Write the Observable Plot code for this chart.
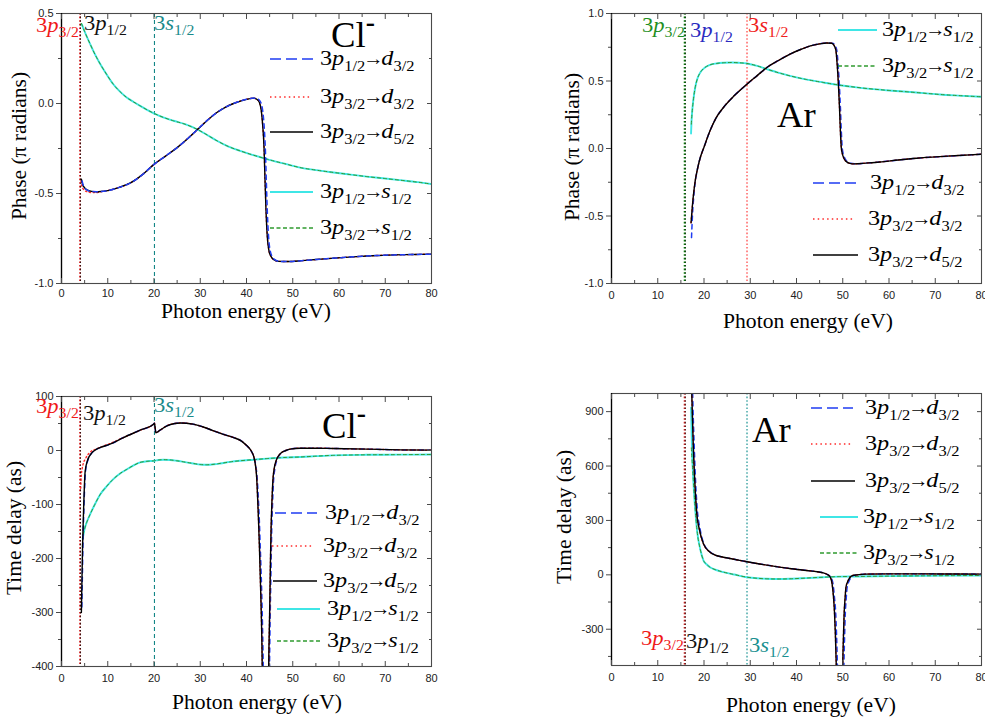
<!DOCTYPE html>
<html><head><meta charset="utf-8">
<script src="https://cdn.jsdelivr.net/npm/d3@7"></script>
<script src="https://cdn.jsdelivr.net/npm/@observablehq/plot@0.6"></script>
<style>
body{margin:0;background:#fff;}
#chart{position:relative;width:985px;height:718px;overflow:hidden;background:#fff;}
#chart svg{position:absolute;overflow:visible;max-width:none;}
</style></head><body><div id="chart"></div>
<script>
// ================= DATA =================
const seriesLabels = ["3p_{1/2}→d_{3/2}", "3p_{3/2}→d_{3/2}", "3p_{3/2}→d_{5/2}", "3p_{1/2}→s_{1/2}", "3p_{3/2}→s_{1/2}"];
const thresholdLabels = ["3p_{3/2}", "3p_{1/2}", "3s_{1/2}"];
const xLabel = "Photon energy (eV)";
const phaseLabel = "Phase (π radians)";
const delayLabel = "Time delay (as)";
const xTicks = [0, 10, 20, 30, 40, 50, 60, 70, 80];
const xMinor = [5, 15, 25, 35, 45, 55, 65, 75];
const clPhaseTicks = [-1.0, -0.5, 0.0, 0.5];
const clPhaseMinor = [-0.75, -0.25, 0.25];
const arPhaseTicks = [-1.0, -0.5, 0.0, 0.5, 1.0];
const arPhaseMinor = [-0.75, -0.25, 0.25, 0.75];
const clDelayTicks = [-400, -300, -200, -100, 0, 100];
const clDelayMinor = [-350, -250, -150, -50, 50];
const arDelayTicks = [-300, 0, 300, 600, 900];
const arDelayMinor = [-450, -150, 150, 450, 750];

// thresholds (eV): 3p3/2, 3p1/2, 3s1/2
const clThresholdE = [4.0, 4.1, 20.1];
const arThresholdE = [15.8, 15.95, 29.3];

// ---- Cl- phase (π rad) ----
const clPhaseP12D32 = [[4.45,-0.43],[4.7,-0.455],[5.2,-0.475],[6.2,-0.487],[7.5,-0.49],[8.5,-0.489],[10,-0.484],[12.5,-0.466],[15,-0.44],[17.5,-0.395],[20,-0.338],[22.5,-0.292],[25,-0.245],[27.5,-0.19],[29.5,-0.142],[31.5,-0.094],[33.6,-0.05],[35.5,-0.02],[37.2,0.0],[39,0.016],[40.5,0.026],[41.5,0.03],[42.5,0.025],[43.1,0.005],[43.5,-0.04],[43.8,-0.12],[44.1,-0.27],[44.3,-0.44],[44.5,-0.6],[44.8,-0.75],[45.1,-0.815],[45.5,-0.848],[46.1,-0.867],[47.2,-0.877],[49,-0.878],[52,-0.873],[55,-0.867],[59,-0.859],[63,-0.852],[67,-0.846],[72,-0.841],[76,-0.839],[80,-0.837]];
const clPhaseP32D32 = [[4.2,-0.43],[4.4,-0.46],[4.8,-0.478],[5.5,-0.49],[6.5,-0.495],[7.5,-0.495],[8.5,-0.49],[10,-0.484],[12.5,-0.466],[15,-0.44],[17.5,-0.395],[20,-0.338],[22.5,-0.292],[25,-0.245],[27.5,-0.19],[29.5,-0.142],[31.5,-0.094],[33.6,-0.05],[35.5,-0.02],[37.2,0.0],[39,0.016],[40.5,0.026],[41.5,0.03],[42.3,0.022],[42.8,0.005],[43.2,-0.04],[43.5,-0.12],[43.8,-0.25],[44.0,-0.42],[44.2,-0.58],[44.5,-0.74],[44.8,-0.81],[45.2,-0.845],[45.8,-0.866],[47,-0.877],[49,-0.878],[52,-0.873],[55,-0.867],[59,-0.859],[63,-0.852],[67,-0.846],[72,-0.841],[76,-0.839],[80,-0.837]];
const clPhaseP32D52 = [[4.3,-0.42],[4.5,-0.445],[4.8,-0.462],[5.5,-0.48],[6.5,-0.488],[7.5,-0.49],[8.5,-0.489],[10,-0.484],[12.5,-0.466],[15,-0.44],[17.5,-0.395],[20,-0.338],[22.5,-0.292],[25,-0.245],[27.5,-0.19],[29.5,-0.142],[31.5,-0.094],[33.6,-0.05],[35.5,-0.02],[37.2,0.0],[39,0.016],[40.5,0.026],[41.5,0.03],[42.3,0.022],[42.8,0.005],[43.2,-0.04],[43.5,-0.12],[43.8,-0.25],[44.0,-0.42],[44.2,-0.58],[44.5,-0.74],[44.8,-0.81],[45.2,-0.845],[45.8,-0.866],[47,-0.877],[49,-0.878],[52,-0.873],[55,-0.867],[59,-0.859],[63,-0.852],[67,-0.846],[72,-0.841],[76,-0.839],[80,-0.837]];
const clPhaseP12S12 = [[4.4,0.44],[5,0.4],[6.2,0.33],[7.3,0.27],[8.4,0.218],[9.8,0.16],[11.2,0.107],[12.6,0.067],[14.1,0.033],[15.5,0.01],[17,-0.013],[18.5,-0.035],[20.1,-0.056],[22,-0.077],[24.2,-0.096],[26.7,-0.115],[29.3,-0.143],[31.5,-0.175],[33.6,-0.207],[36,-0.238],[38.6,-0.263],[41.5,-0.287],[44.4,-0.309],[48,-0.333],[51.6,-0.356],[55,-0.37],[58.8,-0.383],[62.5,-0.395],[66,-0.406],[70,-0.417],[73.2,-0.426],[77,-0.437],[80,-0.448]];
const clPhaseP32S12 = [[4.3,0.445],[5,0.4],[6.2,0.33],[7.3,0.27],[8.4,0.218],[9.8,0.16],[11.2,0.107],[12.6,0.067],[14.1,0.033],[15.5,0.01],[17,-0.013],[18.5,-0.035],[20.1,-0.056],[22,-0.077],[24.2,-0.096],[26.7,-0.115],[29.3,-0.143],[31.5,-0.175],[33.6,-0.207],[36,-0.238],[38.6,-0.263],[41.5,-0.287],[44.4,-0.309],[48,-0.333],[51.6,-0.356],[55,-0.37],[58.8,-0.383],[62.5,-0.395],[66,-0.406],[70,-0.417],[73.2,-0.426],[77,-0.437],[80,-0.448]];

// ---- Ar phase (π rad) ----
const arPhaseP12D32 = [[17.3,-0.66],[17.5,-0.5],[17.8,-0.35],[18.1,-0.25],[18.6,-0.15],[19.2,-0.067],[20,0.01],[21.3,0.131],[22.5,0.22],[24.2,0.304],[26.5,0.39],[29.3,0.477],[31.5,0.54],[33.6,0.6],[36,0.65],[38.6,0.699],[41,0.735],[43,0.76],[45,0.775],[46.5,0.782],[47.8,0.78],[48.3,0.765],[48.7,0.73],[49.0,0.62],[49.3,0.45],[49.5,0.3],[49.7,0.12],[49.9,0.0],[50.3,-0.06],[50.9,-0.095],[51.7,-0.11],[52.7,-0.114],[55,-0.108],[58,-0.1],[62,-0.085],[66,-0.072],[71,-0.06],[75,-0.052],[80,-0.042]];
const arPhaseP32D32 = [[17.2,-0.55],[17.5,-0.42],[17.8,-0.32],[18.1,-0.24],[18.6,-0.15],[19.2,-0.067],[20,0.01],[21.3,0.131],[22.5,0.22],[24.2,0.304],[26.5,0.39],[29.3,0.477],[31.5,0.54],[33.6,0.6],[36,0.65],[38.6,0.699],[41,0.735],[43,0.76],[45,0.775],[46.5,0.782],[47.6,0.78],[48.1,0.765],[48.5,0.73],[48.8,0.62],[49.1,0.45],[49.3,0.3],[49.5,0.12],[49.7,0.0],[50.1,-0.06],[50.7,-0.095],[51.5,-0.11],[52.5,-0.114],[55,-0.108],[58,-0.1],[62,-0.085],[66,-0.072],[71,-0.06],[75,-0.052],[80,-0.042]];
const arPhaseP32D52 = [[17.2,-0.55],[17.5,-0.42],[17.8,-0.32],[18.1,-0.24],[18.6,-0.15],[19.2,-0.067],[20,0.01],[21.3,0.131],[22.5,0.22],[24.2,0.304],[26.5,0.39],[29.3,0.477],[31.5,0.54],[33.6,0.6],[36,0.65],[38.6,0.699],[41,0.735],[43,0.76],[45,0.775],[46.5,0.782],[47.6,0.78],[48.1,0.765],[48.5,0.73],[48.8,0.62],[49.1,0.45],[49.3,0.3],[49.5,0.12],[49.7,0.0],[50.1,-0.06],[50.7,-0.095],[51.5,-0.11],[52.5,-0.114],[55,-0.108],[58,-0.1],[62,-0.085],[66,-0.072],[71,-0.06],[75,-0.052],[80,-0.042]];
const arPhaseP12S12 = [[17.2,0.111],[17.3,0.2],[17.4,0.254],[17.7,0.36],[18.1,0.452],[18.6,0.52],[19.2,0.563],[20.2,0.6],[21.3,0.62],[22.7,0.63],[24.2,0.635],[26,0.637],[27.5,0.635],[29.3,0.63],[31.5,0.612],[33.6,0.588],[36,0.562],[38.6,0.538],[42,0.512],[45.8,0.489],[49.4,0.469],[53,0.453],[56.6,0.44],[60,0.43],[63.9,0.42],[67.5,0.41],[71.1,0.4],[75,0.392],[80,0.383]];
const arPhaseP32S12 = [[17.25,0.18],[17.4,0.254],[17.7,0.36],[18.1,0.452],[18.6,0.52],[19.2,0.563],[20.2,0.6],[21.3,0.62],[22.7,0.63],[24.2,0.635],[26,0.637],[27.5,0.635],[29.3,0.63],[31.5,0.612],[33.6,0.588],[36,0.562],[38.6,0.538],[42,0.512],[45.8,0.489],[49.4,0.469],[53,0.453],[56.6,0.44],[60,0.43],[63.9,0.42],[67.5,0.41],[71.1,0.4],[75,0.392],[80,0.383]];

// ---- Cl- time delay (as) ----
const clDelayP12D32 = [[4.4,-290],[4.5,-240],[4.65,-170],[4.8,-120],[4.95,-80],[5.2,-38],[5.7,-18],[6.6,-4],[7.5,2],[8.4,5.6],[10.5,11.7],[13.4,24],[17,37.6],[19.9,48.8],[20.1,50.6],[20.4,33],[21.3,37.6],[22.8,45.7],[24.5,50],[25.7,51],[27,50.5],[28.5,48.8],[30.5,44],[32.9,36.4],[35,30],[37.2,24],[39,17],[40.1,8.6],[40.8,2],[41.2,-3.7],[41.6,-12],[41.95,-25],[42.3,-50],[42.55,-87],[42.8,-135],[43.0,-185],[43.25,-250],[43.45,-320],[43.65,-420],[43.8,-560],[44.8,-560],[44.95,-420],[45.1,-320],[45.3,-220],[45.45,-149],[45.65,-95],[45.85,-56],[46.15,-33],[46.5,-19],[47.1,-9],[47.7,-3.7],[48.5,0],[49.4,2.5],[51.6,4.3],[55,4.3],[58.8,3.7],[66,2.5],[73.2,1.2],[80,0.6]];
const clDelayP32D32 = [[4.15,-70],[4.3,-45],[4.6,-28],[5.2,-15],[6.2,-3],[7.6,3],[9,8],[10.5,13],[13.4,24],[17,37.6],[19.9,48.8],[20.1,50.6],[20.4,33],[21.3,37.6],[22.8,45.7],[24.5,50],[25.7,51],[27,50.5],[28.5,48.8],[30.5,44],[32.9,36.4],[35,30],[37.2,24],[39,17],[40.1,8.6],[40.8,2],[41.2,-3.7],[41.6,-12],[41.9,-25],[42.2,-50],[42.4,-87],[42.6,-130],[42.8,-180],[43.0,-240],[43.2,-303],[43.4,-400],[43.55,-560],[44.65,-560],[44.8,-400],[45.0,-303],[45.15,-220],[45.3,-149],[45.5,-95],[45.7,-56],[46.0,-33],[46.4,-19],[47,-9],[47.6,-3.7],[48.5,0],[49.4,2.5],[51.6,4.3],[55,4.3],[58.8,3.7],[66,2.5],[73.2,1.2],[80,0.6]];
const clDelayP32D52 = [[4.3,-300],[4.4,-250],[4.55,-180],[4.7,-130],[4.85,-90],[5.1,-40],[5.6,-19],[6.6,-4],[7.5,2],[8.4,5.6],[10.5,11.7],[13.4,24],[17,37.6],[19.9,48.8],[20.1,50.6],[20.4,33],[21.3,37.6],[22.8,45.7],[24.5,50],[25.7,51],[27,50.5],[28.5,48.8],[30.5,44],[32.9,36.4],[35,30],[37.2,24],[39,17],[40.1,8.6],[40.8,2],[41.2,-3.7],[41.6,-12],[41.9,-25],[42.2,-50],[42.4,-87],[42.6,-130],[42.8,-180],[43.0,-240],[43.2,-303],[43.4,-400],[43.55,-560],[44.65,-560],[44.8,-400],[45.0,-303],[45.15,-220],[45.3,-149],[45.5,-95],[45.7,-56],[46.0,-33],[46.4,-19],[47,-9],[47.6,-3.7],[48.5,0],[49.4,2.5],[51.6,4.3],[55,4.3],[58.8,3.7],[66,2.5],[73.2,1.2],[80,0.6]];
const clDelayP12S12 = [[4.6,-163],[5,-145],[5.5,-132],[6.2,-118],[7.2,-100],[8.4,-81],[9.8,-66],[11.2,-53],[12.6,-43],[14.1,-35],[15.5,-28],[17,-22],[18.5,-20],[20.1,-19],[21,-17.5],[22.1,-17],[23.5,-17.5],[24.9,-19],[26.7,-21.5],[28.5,-24],[30,-26],[31.4,-26.5],[33,-25.5],[34.3,-24],[36.5,-21],[38.6,-19],[41.5,-17],[44.4,-15],[48,-13],[51.6,-12],[55,-10.5],[58.8,-9],[66,-8],[73,-7.7],[80,-7.4]];
const clDelayP32S12 = [[4.5,-178],[4.6,-163],[5,-145],[5.5,-132],[6.2,-118],[7.2,-100],[8.4,-81],[9.8,-66],[11.2,-53],[12.6,-43],[14.1,-35],[15.5,-28],[17,-22],[18.5,-20],[20.1,-19],[21,-17.5],[22.1,-17],[23.5,-17.5],[24.9,-19],[26.7,-21.5],[28.5,-24],[30,-26],[31.4,-26.5],[33,-25.5],[34.3,-24],[36.5,-21],[38.6,-19],[41.5,-17],[44.4,-15],[48,-13],[51.6,-12],[55,-10.5],[58.8,-9],[66,-8],[73,-7.7],[80,-7.4]];

// ---- Ar time delay (as) ----
const arDelayP12D32 = [[17.5,1050],[17.7,850],[17.9,700],[18.1,560],[18.55,360],[19.1,260],[19.9,175],[21.3,127],[22.5,108],[24.2,97],[26.5,86],[29.3,72],[32,60],[35,48],[38.5,35],[42.2,24],[44.5,17],[45.8,11],[46.6,3],[47.4,-13],[47.9,-50],[48.2,-123],[48.45,-200],[48.65,-324],[48.85,-500],[49.05,-700],[50.1,-700],[50.25,-500],[50.4,-340],[50.55,-214],[50.75,-130],[50.95,-68],[51.35,-35],[51.9,-13],[52.5,-3],[53.3,0],[55,4],[60.3,5.5],[67.5,5.5],[74,4.5],[80,3.7]];
const arDelayP32D32 = [[17.3,1050],[17.5,870],[17.7,700],[18.0,520],[18.45,335],[19,250],[19.9,170],[21.3,125],[22.5,108],[24.2,97],[26.5,86],[29.3,72],[32,60],[35,48],[38.5,35],[42.2,24],[44.5,17],[45.8,11],[46.6,3],[47.3,-13],[47.7,-50],[48.0,-123],[48.2,-200],[48.4,-324],[48.6,-500],[48.8,-700],[49.9,-700],[50.0,-500],[50.15,-340],[50.3,-214],[50.5,-130],[50.7,-68],[51.1,-35],[51.6,-13],[52.2,-3],[53,0],[55,4],[60.3,5.5],[67.5,5.5],[74,4.5],[80,3.7]];
const arDelayP32D52 = [[17.3,1050],[17.5,870],[17.7,700],[18.0,520],[18.45,335],[19,250],[19.9,170],[21.3,125],[22.5,108],[24.2,97],[26.5,86],[29.3,72],[32,60],[35,48],[38.5,35],[42.2,24],[44.5,17],[45.8,11],[46.6,3],[47.3,-13],[47.7,-50],[48.0,-123],[48.2,-200],[48.4,-324],[48.6,-500],[48.8,-700],[49.9,-700],[50.0,-500],[50.15,-340],[50.3,-214],[50.5,-130],[50.7,-68],[51.1,-35],[51.6,-13],[52.2,-3],[53,0],[55,4],[60.3,5.5],[67.5,5.5],[74,4.5],[80,3.7]];
const arDelayP12S12 = [[17.2,922],[17.4,700],[17.7,519],[18.1,360],[18.5,244],[19.2,140],[19.9,79],[20.6,57],[21.3,42],[22.5,28],[24.2,15],[26.5,2],[29.3,-13],[31.5,-19],[33.6,-22],[36,-23],[38.6,-22],[42,-18],[45.8,-13],[49,-10],[53,-9],[60,-7],[67.5,-5.5],[74,-4.5],[80,-3.7]];
const arDelayP32S12 = [[17.25,700],[17.4,640],[17.7,519],[18.1,360],[18.5,244],[19.2,140],[19.9,79],[20.6,57],[21.3,42],[22.5,28],[24.2,15],[26.5,2],[29.3,-13],[31.5,-19],[33.6,-22],[36,-23],[38.6,-22],[42,-18],[45.8,-13],[49,-10],[53,-9],[60,-7],[67.5,-5.5],[74,-4.5],[80,-3.7]];

// ================= STYLES & LAYOUT =================
const seriesStyle = [
  {stroke:"#1f3cf2", width:1.5, dash:"4.5,4", legendDash:"11,5"},
  {stroke:"#ff2a2a", width:1.4, dash:"1.3,2.6", legendDash:"1.5,3.2"},
  {stroke:"#000000", width:1.4, dash:null, legendDash:null},
  {stroke:"#3fe6e6", width:1.9, dash:null, legendDash:null},
  {stroke:"#2f9a2f", width:1.0, dash:"3,3", legendDash:"4,2.5"}
];
const serif = "'Liberation Serif','Times New Roman',serif";
const sans = "'Liberation Sans',Arial,sans-serif";
const fmt1 = d => d.toFixed(1);
const fmt0 = d => String(d);

const panels = [
  { left:0, top:0, width:490, height:340, margin:[13,59,57,61], order:[3,4,1,2,0], xPad:6,
    yDomain:[-1,0.5], yTicks:clPhaseTicks, yMinor:clPhaseMinor, yFmt:fmt1, yLabel:phaseLabel,
    series:[clPhaseP12D32, clPhaseP32D32, clPhaseP32D52, clPhaseP12S12, clPhaseP32S12],
    thr:clThresholdE, name:"Cl^{-}",
    thrStyle:[{stroke:"#e32222",dash:"1.6,2",w:1.7},{stroke:"#3a1010",dash:"1.6,2",w:1.1},{stroke:"#138686",dash:"4,3",w:1.1}],
    thrColor:["#f01818","#111111","#1a8a8a"],
    thrPos:[[36,32],[84,30],[154,30]],
    namePos:[331,47],
    legend:[[270,313,59,320],[270,310,97,320],[270,313,132,320],[270,313,192,320],[270,313,228,320]],
    xTitle:[246,318], yTitle:[26,146] },
  { left:490, top:0, width:495, height:340, margin:[13,4,57,121], order:[3,4,0,1,2], xPad:8,
    yDomain:[-1,1], yTicks:arPhaseTicks, yMinor:arPhaseMinor, yFmt:fmt1, yLabel:phaseLabel,
    series:[arPhaseP12D32, arPhaseP32D32, arPhaseP32D52, arPhaseP12S12, arPhaseP32S12],
    thr:arThresholdE, name:"Ar",
    thrStyle:[{stroke:"#0c8c0c",dash:"1.6,2",w:1.7},{stroke:"#002800",dash:"1.6,2",w:1.1},{stroke:"#ff6464",dash:"1.6,2",w:1.5}],
    thrColor:["#1f8f1f","#2b2bc0","#f02020"],
    thrPos:[[152,32],[200,37],[258,32]],
    namePos:[287,127],
    legend:[[323,367,183,380],[323,363,219,378],[323,368,255,378],[348,387,30,392],[348,387,66,392]],
    xTitle:[318,328], yTitle:[89,147] },
  { left:0, top:380, width:490, height:338, margin:[16,59,52,61], order:[3,4,0,1,2], xPad:8,
    yDomain:[-400,100], yTicks:clDelayTicks, yMinor:clDelayMinor, yFmt:fmt0, yLabel:delayLabel,
    series:[clDelayP12D32, clDelayP32D32, clDelayP32D52, clDelayP12S12, clDelayP32S12],
    thr:clThresholdE, name:"Cl^{-}",
    thrStyle:[{stroke:"#e32222",dash:"1.6,2",w:1.7},{stroke:"#3a1010",dash:"1.6,2",w:1.1},{stroke:"#138686",dash:"4,3",w:1.1}],
    thrColor:["#f01818","#111111","#1a8a8a"],
    thrPos:[[36,33],[83,40],[154,32]],
    namePos:[322,58],
    legend:[[275,317,133,325],[272,313,166,323],[273,317,201,323],[277,320,229,327],[277,320,261,327]],
    xTitle:[257,329], yTitle:[21,148] },
  { left:490, top:380, width:495, height:338, margin:[13,4,53,121], order:[3,4,0,1,2], xPad:8,
    yDomain:[-500,1000], yTicks:arDelayTicks, yMinor:arDelayMinor, yFmt:fmt0, yLabel:delayLabel,
    series:[arDelayP12D32, arDelayP32D32, arDelayP32D52, arDelayP12S12, arDelayP32S12],
    thr:arThresholdE, name:"Ar",
    thrStyle:[{stroke:"#e32222",dash:"1.6,2",w:1.7},{stroke:"#3a1010",dash:"1.6,2",w:1.1},{stroke:"#2a9a9a",dash:"1.6,2",w:1.3}],
    thrColor:["#f01818","#111111","#1a9090"],
    thrPos:[[151,265],[196,268],[259,272]],
    namePos:[262,62],
    legend:[[321,363,28,375],[321,363,64,375],[321,365,101,375],[330,368,137,373],[330,368,173,373]],
    xTitle:[321,332], yTitle:[81,137] }
];

// ================= RICH TEXT (sub/superscripts) =================
function rich(g, str, x, y, o) {
  const size = o.size, sub = o.sub || 0.68, sx = o.sx || 1;
  const t = g.append("text")
    .attr("transform", `translate(${x},${y}) rotate(${o.rotate||0}) scale(${sx},1)`)
    .attr("font-size", size)
    .attr("fill", o.color || "#000").attr("text-anchor", o.anchor || "start")
    .style("font-family", serif);
  const re = /_\{([^}]*)\}|\^\{([^}]*)\}|(→)|([A-Za-z]+)|([^_^A-Za-z→]+)/g;
  let m, shift = 0, nextDx = 0;
  while ((m = re.exec(str))) {
    let txt, fs = size, target = 0, italic = false, bold = false, dx = nextDx;
    nextDx = 0;
    if (m[1] !== undefined) { txt = m[1]; fs = size*sub; target = size*0.27; }
    else if (m[2] !== undefined) { txt = m[2]; fs = size*0.75; target = -size*0.45; bold = true; }
    else if (m[3] !== undefined) { txt = m[3]; fs = size*0.85; dx += -2; nextDx = -2; }
    else if (m[4] !== undefined) { txt = m[4]; italic = !!o.italic; }
    else { txt = m[5]; }
    const ts = t.append("tspan").attr("font-size", fs).style("font-family", serif).text(txt);
    if (target - shift !== 0) ts.attr("dy", target - shift);
    if (dx) ts.attr("dx", dx);
    if (italic) ts.attr("font-style", "italic");
    if (bold) ts.attr("font-weight", "bold");
    shift = target;
  }
  return t;
}

// ================= BUILD =================
const chart = document.getElementById("chart");
panels.forEach(p => {
  const [mt, mr, mb, ml] = p.margin;
  const marks = [];
  p.thr.forEach((e, i) => {
    const s = p.thrStyle[i];
    marks.push(Plot.ruleX([e], {stroke: s.stroke, strokeWidth: s.w, strokeDasharray: s.dash}));
  });
  p.order.forEach(i => {
    const s = seriesStyle[i];
    marks.push(Plot.line(p.series[i], {x: d => d[0], y: d => d[1], stroke: s.stroke,
      strokeWidth: s.width, strokeDasharray: s.dash, curve: "monotone-x", clip: true}));
  });
  const axc = "#4a4a4a";
  marks.push(
    Plot.frame({stroke: axc, strokeWidth: 1.1}),
    Plot.ruleX([0], {stroke: "#000", strokeWidth: 1.3}),
    Plot.axisX(xTicks, {tickSize: 0, tickPadding: p.xPad, fontSize: 11, fontFamily: sans, fill: "#222", label: null}),
    Plot.axisX(xTicks, {tickSize: -5, tickFormat: () => "", stroke: axc, label: null}),
    Plot.axisX(xMinor, {tickSize: -3, tickFormat: () => "", stroke: axc, label: null}),
    Plot.axisX(xTicks, {anchor: "top", tickSize: -5, tickFormat: () => "", stroke: axc, label: null}),
    Plot.axisX(xMinor, {anchor: "top", tickSize: -3, tickFormat: () => "", stroke: axc, label: null}),
    Plot.axisY(p.yTicks, {tickSize: 5, tickPadding: 3, tickFormat: p.yFmt, fontSize: 11, fontFamily: sans, fill: "#222", stroke: axc, label: null}),
    Plot.axisY(p.yMinor, {tickSize: 3, tickFormat: () => "", stroke: axc, label: null}),
    Plot.axisY(p.yTicks, {anchor: "right", tickSize: -5, tickFormat: () => "", stroke: axc, label: null}),
    Plot.axisY(p.yMinor, {anchor: "right", tickSize: -3, tickFormat: () => "", stroke: axc, label: null})
  );
  const svg = Plot.plot({
    width: p.width, height: p.height,
    marginTop: mt, marginRight: mr, marginBottom: mb, marginLeft: ml,
    x: {domain: [0, 80]}, y: {domain: p.yDomain},
    style: {background: "transparent", fontFamily: sans, color: "#222", overflow: "visible"},
    marks
  });
  svg.style.left = p.left + "px";
  svg.style.top = p.top + "px";
  chart.appendChild(svg);

  const g = d3.select(svg).append("g");
  p.legend.forEach(([x0, x1, y, tx], i) => {
    const s = seriesStyle[i];
    g.append("line").attr("x1", x0).attr("x2", x1).attr("y1", y).attr("y2", y)
      .attr("stroke", s.stroke).attr("stroke-width", Math.max(1.3, s.width)).attr("stroke-dasharray", s.legendDash);
    rich(g, seriesLabels[i], tx, y + 6, {size: 22, sub: 0.68, sx: 1.1, italic: true});
  });
  thresholdLabels.forEach((lab, i) => {
    rich(g, lab, p.thrPos[i][0], p.thrPos[i][1], {size: 20, sub: 0.7, sx: 1.13, italic: true, color: p.thrColor[i]});
  });
  rich(g, p.name, p.namePos[0], p.namePos[1], {size: 35, sx: 1.05});
  rich(g, xLabel, p.xTitle[0], p.xTitle[1], {size: 20, sx: 1.08, anchor: "middle"});
  rich(g, p.yLabel, p.yTitle[0], p.yTitle[1], {size: 21.5, anchor: "middle", rotate: -90});
});
</script></body></html>
